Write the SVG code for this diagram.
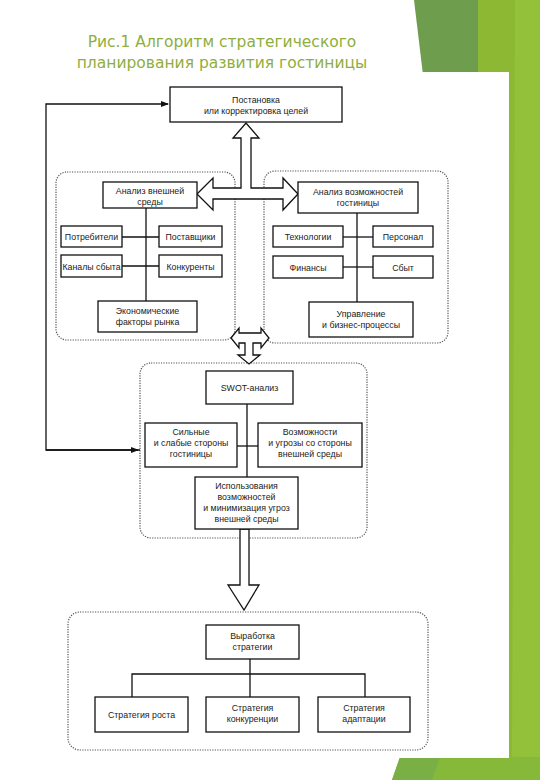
<svg xmlns="http://www.w3.org/2000/svg" width="540" height="780" viewBox="0 0 540 780">
<style>
.box{fill:#fff;stroke:#111;stroke-width:1.3}
.reg{fill:none;stroke:#555;stroke-width:1.2;stroke-dasharray:1.2 1.3}
.ln{fill:none;stroke:#111;stroke-width:1.3}
.blk{fill:#fff;stroke:#111;stroke-width:1.3;stroke-linejoin:miter}
.t{font-family:"Liberation Sans",Arial,sans-serif;font-size:8.8px;fill:#222;text-anchor:middle}
.title{font-family:"DejaVu Sans","Open Sans",sans-serif;font-size:15.5px;fill:#8fae3c;text-anchor:middle}
</style>
<defs>
<marker id="ah" markerWidth="8" markerHeight="6" refX="7" refY="3" orient="auto" markerUnits="userSpaceOnUse">
<path d="M0,0 L8,3 L0,6 z" fill="#111"/>
</marker>
</defs>
<rect width="540" height="780" fill="#fff"/>
<g id="decor">
<polygon points="414,0 480,0 480,75 423,75" fill="#6e9d4e"/>
<polygon points="478,0 540,0 540,780 478,780" fill="#8cb833"/>
<polygon points="515,0 540,0 540,780 512,780" fill="#93c23a"/>
<polygon points="400,757 540,757 540,780 392,780" fill="#86b83a"/>
<polygon points="400,757 440,757 432,780 392,780" fill="#7aaf45"/>
<rect x="30" y="72" width="479" height="686" fill="#fff"/>
</g>
<g id="title">
<text class="title" x="222" y="47">Рис.1 Алгоритм стратегического</text>
<text class="title" x="222" y="68">планирования развития гостиницы</text>
</g>
<g id="regions">
<rect class="reg" x="56" y="172" width="179" height="168" rx="11"/>
<rect class="reg" x="264" y="171" width="184" height="172" rx="11"/>
<rect class="reg" x="140" y="363" width="227" height="175" rx="11"/>
<rect class="reg" x="68" y="612" width="360" height="138" rx="12"/>
</g>
<g id="connectors">
<polyline class="ln" points="140,450 46,450 46,104 168,104" marker-end="url(#ah)"/>
<line class="ln" x1="46" y1="450" x2="138" y2="450" marker-end="url(#ah)"/>
<line class="ln" x1="146" y1="208" x2="146" y2="301"/>
<line class="ln" x1="122" y1="237" x2="159" y2="237"/>
<line class="ln" x1="122" y1="266" x2="159" y2="266"/>
<line class="ln" x1="357" y1="213" x2="357" y2="302"/>
<line class="ln" x1="343" y1="237" x2="373" y2="237"/>
<line class="ln" x1="343" y1="267" x2="373" y2="267"/>
<line class="ln" x1="247" y1="404" x2="247" y2="477"/>
<line class="ln" x1="237" y1="446" x2="258" y2="446"/>
<line class="ln" x1="250" y1="659" x2="250" y2="697"/>
<polyline class="ln" points="132,697 132,674 365,674 365,697"/>
<path class="blk" d="M197,194 L213,178 L213,188 L241,188 L241,138 L233,138 L246,123 L259,138 L251,138 L251,188 L283,188 L283,178 L298,194 L283,210 L283,199 L213,199 L213,210 Z"/>
<path class="blk" d="M231,338 L239,328 L239,333 L261,333 L261,328 L269,338 L261,348 L261,343 L253,343 L253,355 L260,355 L249,364 L238,355 L245,355 L245,343 L239,343 L239,348 Z"/>
<path class="blk" d="M240,529 L249,529 L249,585 L259,585 L244,610 L228,585 L240,585 Z"/>
</g>
<g id="n-goals">
<rect class="box" x="170" y="87" width="172" height="35"/>
<text class="t" x="256" y="103">Постановка</text>
<text class="t" x="256" y="114">или корректировка целей</text>
</g>
<g id="n-ext">
<rect class="box" x="103" y="182" width="94" height="26"/>
<text class="t" x="150" y="194">Анализ внешней</text>
<text class="t" x="150" y="205">среды</text>
</g>
<g id="n-cons">
<rect class="box" x="61" y="226" width="61" height="21"/>
<text class="t" x="91.5" y="240">Потребители</text>
</g>
<g id="n-supp">
<rect class="box" x="159" y="226" width="63" height="21"/>
<text class="t" x="190.5" y="240">Поставщики</text>
</g>
<g id="n-chan">
<rect class="box" x="61" y="255" width="61" height="22"/>
<text class="t" x="91.5" y="269.5">Каналы сбыта</text>
</g>
<g id="n-comp">
<rect class="box" x="159" y="255" width="63" height="22"/>
<text class="t" x="190.5" y="269.5">Конкуренты</text>
</g>
<g id="n-econ">
<rect class="box" x="98" y="301" width="99" height="31"/>
<text class="t" x="147.5" y="314">Экономические</text>
<text class="t" x="147.5" y="325">факторы рынка</text>
</g>
<g id="n-int">
<rect class="box" x="298" y="182" width="120" height="31"/>
<text class="t" x="358" y="195">Анализ возможностей</text>
<text class="t" x="358" y="206">гостиницы</text>
</g>
<g id="n-tech">
<rect class="box" x="273" y="226" width="70" height="21"/>
<text class="t" x="308" y="240">Технологии</text>
</g>
<g id="n-pers">
<rect class="box" x="373" y="226" width="60" height="21"/>
<text class="t" x="403" y="240">Персонал</text>
</g>
<g id="n-fin">
<rect class="box" x="273" y="256" width="70" height="22"/>
<text class="t" x="308" y="270.5">Финансы</text>
</g>
<g id="n-sales">
<rect class="box" x="373" y="256" width="60" height="22"/>
<text class="t" x="403" y="270.5">Сбыт</text>
</g>
<g id="n-mgmt">
<rect class="box" x="309" y="302" width="104" height="35"/>
<text class="t" x="361" y="317">Управление</text>
<text class="t" x="361" y="328">и бизнес-процессы</text>
</g>
<g id="n-swot">
<rect class="box" x="206" y="371" width="87" height="33"/>
<text class="t" x="249.5" y="391">SWOT-анализ</text>
</g>
<g id="n-sw">
<rect class="box" x="145" y="423" width="92" height="44"/>
<text class="t" x="191" y="435">Сильные</text>
<text class="t" x="191" y="446">и слабые стороны</text>
<text class="t" x="191" y="457">гостиницы</text>
</g>
<g id="n-ot">
<rect class="box" x="258" y="423" width="104" height="44"/>
<text class="t" x="310" y="435">Возможности</text>
<text class="t" x="310" y="446">и угрозы со стороны</text>
<text class="t" x="310" y="457">внешней среды</text>
</g>
<g id="n-use">
<rect class="box" x="195" y="477" width="103" height="52"/>
<text class="t" x="246.5" y="489">Использования</text>
<text class="t" x="246.5" y="500">возможностей</text>
<text class="t" x="246.5" y="511">и минимизация угроз</text>
<text class="t" x="246.5" y="522">внешней среды</text>
</g>
<g id="n-dev">
<rect class="box" x="206" y="625" width="93" height="34"/>
<text class="t" x="252.5" y="639">Выработка</text>
<text class="t" x="252.5" y="650">стратегии</text>
</g>
<g id="n-growth">
<rect class="box" x="95" y="697" width="93" height="35"/>
<text class="t" x="141.5" y="718">Стратегия роста</text>
</g>
<g id="n-compet">
<rect class="box" x="206" y="697" width="93" height="35"/>
<text class="t" x="252.5" y="711">Стратегия</text>
<text class="t" x="252.5" y="722">конкуренции</text>
</g>
<g id="n-adapt">
<rect class="box" x="318" y="697" width="92" height="35"/>
<text class="t" x="364" y="711">Стратегия</text>
<text class="t" x="364" y="722">адаптации</text>
</g>
</svg>
